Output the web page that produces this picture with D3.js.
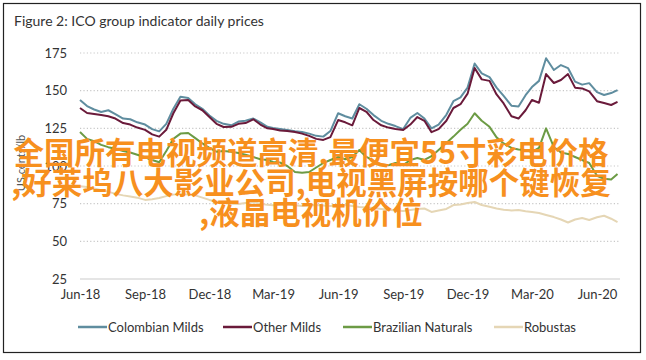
<!DOCTYPE html>
<html><head><meta charset="utf-8">
<script src="https://cdn.jsdelivr.net/npm/d3@7"></script>
<style>
html,body{margin:0;padding:0;background:#fff;}
svg{display:block;}
</style></head>
<body><svg id="c" width="646" height="360"></svg>
<script>
// ---- data ----
const dayMarks = [1, 11, 21];
const monthList = ["2018-06","2018-07","2018-08","2018-09","2018-10","2018-11","2018-12",
  "2019-01","2019-02","2019-03","2019-04","2019-05","2019-06","2019-07","2019-08","2019-09","2019-10","2019-11","2019-12",
  "2020-01","2020-02","2020-03","2020-04","2020-05","2020-06"];
const lastDate = "2020-06-30";

const colombianMilds = [143.8,139.8,137.5,135.8,137.0,134.5,131.5,131.0,129.0,127.5,124.5,123.0,128.0,138.0,146.0,145.1,141.0,138.0,133.5,130.0,128.0,127.0,129.5,130.0,131.5,129.0,126.0,125.2,124.5,123.9,123.0,122.5,121.5,120.0,119.5,123.2,135.0,133.0,131.5,141.0,138.0,133.8,130.0,128.0,126.5,124.5,131.9,135.2,131.5,125.0,127.5,134.0,143.0,145.5,152.0,168.0,161.5,159.0,152.0,146.5,140.0,139.5,147.0,152.4,156.5,171.5,163.7,167.0,165.0,156.0,154.0,155.0,149.0,147.1,148.4,150.4];
const otherMilds = [138.5,135.2,134.5,133.8,133.0,131.5,128.5,127.5,125.5,124.0,121.0,119.5,124.0,135.0,143.5,143.8,139.5,137.0,132.5,128.0,125.9,126.0,128.0,128.5,131.0,127.5,125.0,124.6,123.5,123.2,122.5,121.5,120.0,118.0,117.3,119.2,130.5,129.0,127.0,138.5,136.0,130.5,127.0,125.5,124.5,123.9,127.5,132.5,130.0,122.5,124.5,130.0,138.5,141.0,148.0,165.0,157.5,156.5,147.5,141.5,133.0,131.5,137.0,143.8,142.0,161.0,155.1,157.1,161.0,152.0,151.5,149.5,143.0,141.8,140.5,142.5];
const brazilianNaturals = [122.6,118.0,116.5,114.0,112.5,111.5,110.0,109.0,107.5,105.8,104.0,102.5,110.0,118.0,121.5,121.9,118.5,115.0,112.0,109.5,110.0,109.5,108.6,107.5,106.0,104.5,104.0,102.7,102.3,100.0,96.0,95.5,96.0,99.0,102.0,104.0,106.0,104.5,106.0,110.6,106.0,103.5,101.0,100.5,102.0,100.7,104.0,105.3,104.0,106.5,110.6,115.3,119.5,124.0,128.0,135.0,130.0,126.0,119.0,115.0,112.0,111.0,110.6,109.3,112.0,125.0,112.6,109.0,108.0,106.0,104.0,102.0,93.5,91.5,91.0,94.7];
const robustas = [86.5,86.0,85.0,84.0,83.0,81.5,80.5,79.8,79.0,77.5,78.0,78.8,80.0,81.0,81.5,81.0,80.5,79.0,77.5,76.5,75.5,75.0,74.8,75.5,76.0,75.0,74.2,74.0,74.5,74.8,74.0,73.5,73.8,74.1,73.8,73.5,74.0,74.1,73.5,72.8,72.5,72.1,71.5,71.0,70.5,70.1,70.8,71.5,71.8,69.5,70.5,71.5,74.1,74.5,75.4,76.1,74.1,73.0,71.8,71.0,70.5,70.8,70.0,69.5,68.8,67.5,66.1,64.5,62.5,64.5,65.5,64.2,66.0,67.0,65.0,62.8];

const seriesNames = ["Colombian Milds","Other Milds","Brazilian Naturals","Robustas"];
const seriesColors = ["#5f8d9f","#6a1a3a","#6c9b45","#e5d6b5"];
const yTicks = [25,50,75,100,125,150,175];
const xTickLabels = ["Jun-18","Sep-18","Dec-18","Mar-19","Jun-19","Sep-19","Dec-19","Mar-20","Jun-20"];
const overlayLines = ["全国所有电视频道高清,最便宜55寸彩电价格",",好莱坞八大影业公司,电视黑屏按哪个键恢复",",液晶电视机价位"];

// ---- build ----
const parse = d3.timeParse("%Y-%m-%d");
const dates = [];
monthList.forEach(m => dayMarks.forEach(d => dates.push(parse(m + "-" + String(d).padStart(2,"0")))));
dates.push(parse(lastDate));
const allSeries = [colombianMilds, otherMilds, brazilianNaturals, robustas];

const svg = d3.select("#c");
const font = "Lato, 'Open Sans', sans-serif";

svg.append("rect").attr("x",3.5).attr("y",3.5).attr("width",637).attr("height",349)
  .attr("fill","#fff").attr("stroke","#222").attr("stroke-width",1.2);

svg.append("text").attr("x",14).attr("y",26).attr("font-family",font).attr("font-size",14)
  .attr("fill","#333").text("Figure 2: ICO group indicator daily prices");

const x = d3.scaleTime().domain([parse("2018-06-01"), parse("2020-06-01")]).range([80, 597]);
const y = d3.scaleLinear().domain([25,175]).range([279,53]);

// gridlines
svg.append("g").selectAll("line").data(yTicks).join("line")
  .attr("x1",80).attr("x2",620).attr("y1",d=>y(d)).attr("y2",d=>y(d))
  .attr("stroke", d => d===25 ? "#dcdcdc" : "#c8c8c8")
  .attr("stroke-width", d => d===25 ? 1.5 : 1.2)
  .attr("stroke-dasharray", d => d===25 ? null : "1.2,2.2");

// y axis labels
const yAxis = d3.axisLeft(y).tickValues(yTicks).tickSize(0).tickPadding(0);
const gy = svg.append("g").attr("transform","translate(67,0)").call(yAxis);
gy.select(".domain").remove();
gy.selectAll("text").attr("font-family",font).attr("font-size",13).attr("fill","#333");

// x axis labels
const xTickDates = xTickLabels.map((_,i)=> d3.timeMonth.offset(parse("2018-06-01"), i*3));
const xAxis = d3.axisBottom(x).tickValues(xTickDates).tickSize(0).tickPadding(0)
  .tickFormat((d,i)=>xTickLabels[i]);
const gx = svg.append("g").attr("transform","translate(0,290)").call(xAxis);
gx.select(".domain").remove();
gx.selectAll("text").attr("font-family",font).attr("font-size",13).attr("fill","#333");

// y label
svg.append("text").attr("transform","translate(25,163) rotate(-90)").attr("text-anchor","middle")
  .attr("font-family",font).attr("font-size",11).attr("fill","#555").text("US cents/lb");

// lines
const line = d3.line().x((d,i)=>x(dates[i])).y(d=>y(d));
[3,2,0,1].forEach(k=>{
  svg.append("path").datum(allSeries[k]).attr("d",line).attr("fill","none")
    .attr("stroke",seriesColors[k]).attr("stroke-width",2).attr("stroke-linejoin","round");
});

// legend
const legX = [78,223,343,494];
const leg = svg.append("g");
seriesNames.forEach((n,i)=>{
  leg.append("line").attr("x1",legX[i]).attr("x2",legX[i]+29).attr("y1",327).attr("y2",327)
    .attr("stroke",seriesColors[i]).attr("stroke-width",2.5);
  leg.append("text").attr("x",legX[i]+30).attr("y",331.5).attr("font-family",font)
    .attr("font-size",13).attr("fill","#333").text(n);
});

// overlay text
overlayLines.forEach((t,i)=>{
  svg.append("text").attr("x",311).attr("y",164 + i*30).attr("text-anchor","middle")
    .attr("font-family","'Noto Sans CJK SC', sans-serif").attr("font-weight","bold")
    .attr("font-size",30.5).attr("fill","#f7901e").text(t);
});
</script></body></html>
